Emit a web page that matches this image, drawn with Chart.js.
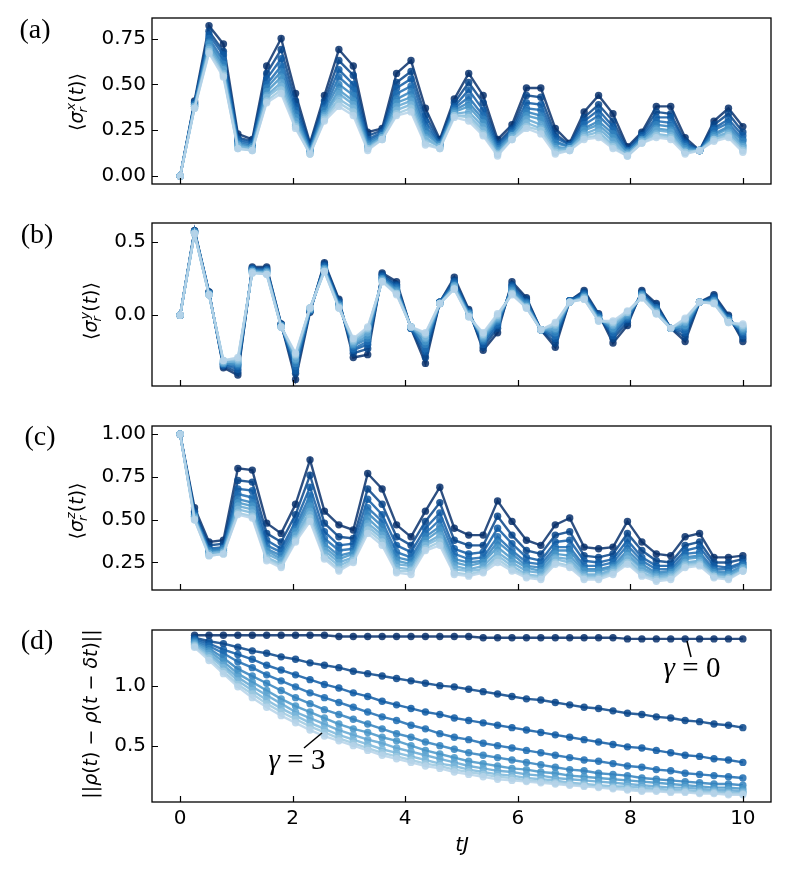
<!DOCTYPE html>
<html>
<head>
<meta charset="utf-8">
<script src="https://cdn.jsdelivr.net/npm/chart.js@4.4.0/dist/chart.umd.min.js"></script>
<style>
body { margin: 0; background: #fff; }
#wrap { position: relative; width: 788px; height: 873px; }
canvas { position: absolute; left: 0; }
</style>
</head>
<body>
<div id="wrap">
  <canvas id="panel-a" width="788" height="202" style="top:0px"></canvas>
  <canvas id="panel-b" width="788" height="199" style="top:205px"></canvas>
  <canvas id="panel-c" width="788" height="200" style="top:408px"></canvas>
  <canvas id="panel-d" width="788" height="261" style="top:612px"></canvas>
</div>
<script>
// time grid tJ (40 steps from 0 to 10)
const tValues = [0, 0.256, 0.513, 0.769, 1.026, 1.282, 1.538, 1.795, 2.051, 2.308, 2.564, 2.821, 3.077, 3.333,
  3.590, 3.846, 4.103, 4.359, 4.615, 4.872, 5.128, 5.385, 5.641, 5.897, 6.154, 6.410, 6.667, 6.923, 7.179,
  7.436, 7.692, 7.949, 8.205, 8.462, 8.718, 8.974, 9.231, 9.487, 9.744, 10];

const gammaLabels = ["0", "1/3", "2/3", "1", "4/3", "5/3", "2", "7/3", "8/3", "3"];
const seriesColors = ["#08306b", "#08458a", "#0f5aa3", "#1d6cb1", "#3181bd", "#4795c8", "#61a7d2", "#7bb7da", "#9cc9e1", "#b6d4e9"];

const xTicks = [0, 2, 4, 6, 8, 10];
const yTicksA = [0, 0.25, 0.5, 0.75];
const yTicksB = [0, 0.5];
const yTicksC = [0.25, 0.5, 0.75, 1.0];
const yTicksD = [0.5, 1.0];

// <sigma_r^x(t)>, one row per gamma (gamma = 0 first)
const sigmaX = [
  [0,.41,.82,.72,.23,.20,.60,.75,.45,.18,.44,.69,.60,.24,.26,.56,.63,.37,.20,.42,.56,.44,.20,.28,.48,.48,.26,.18,.35,.44,.34,.16,.24,.38,.38,.21,.14,.30,.37,.27],
  [0,.40,.79,.68,.21,.19,.56,.69,.41,.17,.41,.63,.55,.22,.25,.51,.57,.33,.19,.40,.51,.40,.18,.26,.44,.43,.23,.17,.32,.39,.30,.15,.23,.35,.34,.19,.14,.28,.34,.24],
  [0,.40,.77,.66,.20,.18,.53,.64,.38,.16,.39,.58,.50,.20,.24,.48,.53,.30,.18,.38,.47,.36,.17,.25,.40,.39,.21,.17,.30,.36,.27,.14,.22,.32,.32,.18,.14,.26,.31,.22],
  [0,.39,.75,.63,.19,.17,.50,.60,.36,.15,.37,.54,.47,.19,.23,.45,.49,.27,.18,.37,.43,.33,.16,.24,.37,.36,.19,.16,.28,.33,.25,.14,.21,.30,.29,.17,.14,.25,.29,.20],
  [0,.39,.73,.61,.18,.16,.48,.57,.34,.14,.36,.50,.44,.18,.22,.42,.46,.25,.17,.36,.40,.31,.15,.23,.35,.33,.18,.16,.26,.30,.23,.13,.20,.28,.27,.16,.14,.23,.27,.19],
  [0,.38,.72,.59,.17,.16,.46,.54,.32,.14,.34,.47,.41,.17,.22,.40,.43,.23,.17,.35,.38,.29,.14,.22,.33,.31,.16,.15,.25,.28,.21,.13,.20,.26,.25,.15,.14,.22,.26,.17],
  [0,.38,.70,.58,.17,.15,.44,.51,.30,.13,.33,.45,.39,.16,.21,.38,.41,.21,.16,.34,.35,.27,.13,.22,.31,.28,.15,.15,.23,.26,.19,.12,.19,.25,.24,.14,.14,.21,.24,.16],
  [0,.38,.69,.56,.16,.15,.43,.49,.28,.13,.32,.42,.37,.15,.21,.36,.39,.20,.16,.33,.33,.25,.12,.21,.29,.26,.14,.15,.22,.24,.17,.12,.19,.23,.22,.13,.14,.20,.23,.15],
  [0,.37,.68,.55,.15,.14,.41,.47,.27,.12,.31,.40,.35,.15,.20,.34,.37,.18,.15,.33,.32,.23,.12,.20,.27,.25,.13,.14,.21,.22,.16,.11,.18,.22,.21,.13,.14,.20,.22,.14],
  [0,.37,.67,.54,.15,.14,.40,.45,.26,.12,.30,.38,.33,.14,.20,.33,.35,.17,.15,.32,.30,.22,.11,.20,.26,.23,.12,.14,.20,.21,.15,.11,.18,.21,.20,.12,.14,.19,.21,.13]
];

// <sigma_r^y(t)>
const sigmaY = [
  [0,.58,.16,-.36,-.41,.33,.33,-.06,-.44,.02,.36,.11,-.29,-.27,.29,.23,-.09,-.33,.09,.26,.04,-.24,-.12,.23,.12,-.10,-.22,.10,.17,.01,-.19,-.07,.17,.08,-.09,-.18,.09,.14,.00,-.18],
  [0,.58,.16,-.35,-.39,.32,.32,-.06,-.40,.03,.35,.10,-.26,-.23,.28,.21,-.09,-.29,.09,.24,.03,-.22,-.09,.21,.11,-.10,-.19,.10,.16,.00,-.16,-.05,.16,.07,-.09,-.15,.09,.13,-.01,-.16],
  [0,.57,.15,-.34,-.37,.32,.31,-.07,-.38,.03,.34,.09,-.24,-.20,.27,.20,-.09,-.25,.09,.23,.02,-.20,-.07,.20,.09,-.10,-.16,.10,.15,.00,-.14,-.03,.15,.05,-.09,-.12,.09,.12,-.02,-.14],
  [0,.57,.15,-.34,-.35,.31,.31,-.07,-.35,.03,.33,.08,-.23,-.18,.26,.19,-.09,-.23,.09,.22,.02,-.18,-.06,.19,.09,-.10,-.14,.10,.14,-.01,-.12,-.02,.15,.05,-.09,-.10,.09,.11,-.02,-.12],
  [0,.57,.15,-.33,-.34,.31,.30,-.07,-.33,.04,.32,.07,-.21,-.16,.25,.18,-.08,-.20,.08,.21,.01,-.17,-.04,.18,.08,-.10,-.12,.09,.13,-.02,-.10,-.01,.14,.04,-.09,-.08,.09,.10,-.03,-.11],
  [0,.57,.15,-.33,-.33,.30,.30,-.07,-.31,.04,.32,.07,-.20,-.14,.25,.17,-.08,-.18,.08,.20,.01,-.16,-.03,.17,.07,-.10,-.10,.09,.13,-.02,-.09,.00,.14,.03,-.09,-.07,.09,.10,-.04,-.10],
  [0,.56,.14,-.32,-.32,.30,.29,-.08,-.30,.04,.31,.06,-.19,-.12,.24,.16,-.08,-.16,.08,.20,.00,-.15,-.02,.16,.06,-.10,-.09,.09,.12,-.03,-.07,.01,.13,.02,-.09,-.05,.09,.09,-.04,-.09],
  [0,.56,.14,-.32,-.31,.30,.29,-.08,-.28,.05,.31,.06,-.18,-.10,.24,.15,-.08,-.15,.08,.19,.00,-.14,-.01,.15,.06,-.10,-.07,.09,.12,-.03,-.06,.02,.13,.02,-.09,-.04,.09,.09,-.04,-.08],
  [0,.56,.14,-.31,-.30,.29,.28,-.08,-.27,.05,.30,.05,-.17,-.09,.23,.15,-.08,-.13,.08,.18,-.01,-.13,.00,.15,.05,-.10,-.06,.09,.11,-.04,-.05,.02,.12,.01,-.09,-.03,.09,.08,-.05,-.07],
  [0,.56,.14,-.31,-.29,.29,.28,-.08,-.26,.05,.30,.05,-.16,-.08,.23,.14,-.08,-.12,.08,.18,-.01,-.12,.01,.14,.05,-.10,-.05,.09,.11,-.04,-.04,.03,.12,.01,-.09,-.02,.09,.08,-.05,-.06]
];

// <sigma_r^z(t)>
const sigmaZ = [
  [1,.57,.37,.38,.80,.79,.48,.42,.59,.85,.55,.47,.44,.77,.68,.47,.40,.55,.69,.45,.41,.41,.61,.49,.38,.35,.47,.51,.34,.33,.34,.49,.37,.30,.29,.40,.42,.28,.28,.29],
  [1,.55,.35,.36,.73,.72,.42,.37,.53,.76,.48,.40,.39,.68,.59,.40,.35,.49,.60,.38,.35,.35,.52,.41,.32,.30,.41,.43,.29,.28,.30,.42,.32,.26,.25,.35,.37,.25,.25,.27],
  [1,.54,.33,.34,.68,.67,.38,.33,.49,.69,.43,.35,.36,.62,.53,.35,.31,.45,.54,.33,.30,.31,.45,.36,.28,.26,.37,.38,.26,.25,.27,.38,.28,.23,.23,.32,.34,.23,.22,.25],
  [1,.53,.32,.33,.65,.63,.35,.31,.46,.64,.39,.32,.33,.57,.49,.31,.28,.42,.50,.30,.27,.28,.40,.32,.25,.24,.34,.34,.23,.23,.25,.35,.26,.21,.21,.30,.31,.21,.21,.24],
  [1,.52,.32,.33,.62,.60,.33,.29,.44,.61,.36,.29,.31,.54,.46,.28,.26,.40,.46,.27,.25,.26,.37,.30,.23,.22,.32,.32,.21,.21,.23,.32,.24,.19,.20,.28,.29,.20,.19,.23],
  [1,.52,.31,.32,.60,.58,.32,.27,.43,.58,.34,.27,.30,.51,.43,.26,.24,.38,.44,.25,.23,.25,.34,.27,.22,.20,.30,.29,.20,.20,.22,.30,.22,.18,.19,.27,.28,.19,.18,.22],
  [1,.51,.30,.31,.58,.56,.30,.26,.41,.55,.32,.25,.28,.48,.41,.24,.23,.36,.41,.23,.21,.23,.31,.25,.20,.19,.28,.27,.18,.18,.21,.29,.21,.17,.18,.25,.26,.18,.17,.22],
  [1,.51,.30,.31,.56,.54,.28,.24,.39,.53,.30,.23,.27,.46,.39,.22,.21,.35,.39,.21,.20,.21,.29,.23,.18,.17,.27,.25,.17,.17,.20,.27,.19,.16,.17,.24,.25,.17,.16,.21],
  [1,.50,.29,.30,.54,.52,.27,.23,.38,.51,.28,.21,.26,.44,.37,.20,.20,.33,.37,.19,.18,.20,.27,.21,.17,.16,.25,.23,.16,.16,.19,.25,.18,.15,.16,.23,.24,.17,.16,.20],
  [1,.50,.29,.30,.53,.51,.26,.22,.37,.49,.27,.20,.25,.42,.35,.19,.18,.32,.35,.18,.17,.19,.25,.20,.16,.15,.24,.22,.15,.15,.18,.24,.17,.14,.15,.22,.23,.16,.15,.20]
];

// ||rho(t) - rho(t - dt)||, starts at the second time step
const distance = [
  [1.42,1.42,1.42,1.42,1.42,1.42,1.42,1.42,1.42,1.42,1.41,1.41,1.41,1.41,1.41,1.41,1.41,1.41,1.41,1.41,1.40,1.40,1.40,1.40,1.40,1.40,1.40,1.40,1.40,1.40,1.39,1.39,1.39,1.39,1.39,1.39,1.39,1.39,1.39],
  [1.40,1.37,1.35,1.32,1.29,1.27,1.24,1.22,1.19,1.17,1.15,1.12,1.10,1.08,1.06,1.04,1.02,1.00,0.99,0.97,0.95,0.93,0.91,0.89,0.88,0.86,0.84,0.82,0.81,0.79,0.77,0.76,0.74,0.73,0.71,0.70,0.68,0.67,0.65],
  [1.39,1.35,1.30,1.26,1.22,1.17,1.13,1.09,1.05,1.01,0.98,0.94,0.91,0.87,0.84,0.81,0.78,0.76,0.73,0.71,0.69,0.67,0.65,0.63,0.61,0.59,0.57,0.55,0.53,0.51,0.49,0.48,0.46,0.44,0.42,0.41,0.39,0.38,0.36],
  [1.38,1.33,1.27,1.20,1.15,1.09,1.04,0.99,0.94,0.90,0.86,0.82,0.78,0.74,0.71,0.67,0.64,0.60,0.57,0.55,0.52,0.50,0.48,0.46,0.44,0.42,0.40,0.38,0.37,0.35,0.33,0.32,0.30,0.29,0.27,0.26,0.25,0.24,0.23],
  [1.37,1.31,1.23,1.14,1.08,1.02,0.96,0.90,0.85,0.80,0.76,0.72,0.68,0.64,0.60,0.57,0.53,0.50,0.47,0.44,0.42,0.40,0.38,0.36,0.34,0.32,0.30,0.29,0.27,0.26,0.25,0.23,0.22,0.21,0.20,0.19,0.18,0.18,0.17],
  [1.36,1.29,1.20,1.10,1.03,0.96,0.89,0.83,0.78,0.73,0.68,0.64,0.61,0.57,0.54,0.50,0.46,0.43,0.40,0.37,0.35,0.33,0.31,0.30,0.28,0.27,0.25,0.24,0.23,0.22,0.21,0.20,0.19,0.18,0.17,0.16,0.15,0.15,0.14],
  [1.35,1.27,1.17,1.07,0.99,0.92,0.85,0.78,0.73,0.68,0.63,0.59,0.55,0.52,0.48,0.45,0.42,0.39,0.36,0.33,0.31,0.29,0.28,0.26,0.25,0.23,0.22,0.21,0.20,0.19,0.18,0.17,0.16,0.15,0.15,0.14,0.13,0.13,0.12],
  [1.34,1.25,1.15,1.04,0.96,0.88,0.81,0.75,0.69,0.64,0.59,0.55,0.51,0.47,0.44,0.41,0.38,0.35,0.33,0.30,0.28,0.26,0.25,0.23,0.22,0.21,0.19,0.18,0.17,0.16,0.16,0.15,0.14,0.13,0.13,0.12,0.12,0.11,0.11],
  [1.33,1.23,1.12,1.01,0.93,0.85,0.78,0.72,0.66,0.61,0.56,0.52,0.48,0.44,0.41,0.38,0.35,0.33,0.30,0.28,0.26,0.24,0.23,0.21,0.20,0.19,0.18,0.17,0.16,0.15,0.14,0.13,0.13,0.12,0.12,0.11,0.11,0.10,0.10],
  [1.32,1.21,1.10,0.99,0.90,0.82,0.75,0.69,0.63,0.58,0.54,0.50,0.46,0.42,0.39,0.36,0.33,0.31,0.28,0.26,0.24,0.22,0.21,0.20,0.19,0.18,0.17,0.16,0.15,0.14,0.13,0.12,0.12,0.11,0.11,0.10,0.10,0.09,0.09]
];

const TICK_FONT = { family: "DejaVu Sans", size: 20 };

function rgba(hex, a) {
  const n = parseInt(hex.slice(1), 16);
  return `rgba(${n >> 16}, ${(n >> 8) & 255}, ${n & 255}, ${a})`;
}

// draws a mathtext-like label rotated 90deg, with optional stacked sup/sub
function drawMath(ctx, parts, cx, cy, size) {
  const fN = size + 'px "DejaVu Sans"';
  const fI = 'italic ' + fN;
  const fS = 'italic ' + Math.round(size * 0.7) + 'px "DejaVu Sans"';
  let total = 0;
  const items = parts.map(p => {
    let w;
    if (p.sup !== undefined) {
      ctx.font = fS;
      w = Math.max(ctx.measureText(p.sup).width, ctx.measureText(p.sub).width) + 1;
    } else {
      ctx.font = p.i ? fI : fN;
      w = ctx.measureText(p.t).width;
    }
    total += w;
    return { p, w };
  });
  ctx.save();
  ctx.translate(cx, cy);
  ctx.rotate(-Math.PI / 2);
  ctx.textBaseline = "middle";
  ctx.textAlign = "left";
  ctx.fillStyle = "#000";
  let x = -total / 2;
  items.forEach(({ p, w }) => {
    if (p.sup !== undefined) {
      ctx.font = fS;
      ctx.fillText(p.sup, x + 1, -size * 0.36);
      ctx.fillText(p.sub, x - 1, size * 0.3);
    } else {
      ctx.font = p.i ? fI : fN;
      ctx.fillText(p.t, x, 0);
    }
    x += w;
  });
  ctx.restore();
}

function drawGamma(ctx, val, cx, cy) {
  const fI = 'italic 29px "Liberation Serif"';
  const fN = '29px "Liberation Serif"';
  ctx.font = fI;
  const w1 = ctx.measureText("γ").width;
  ctx.font = fN;
  const rest = " = " + val;
  const w2 = ctx.measureText(rest).width;
  let x = cx - (w1 + w2) / 2;
  ctx.textBaseline = "middle";
  ctx.textAlign = "left";
  ctx.fillStyle = "#000";
  ctx.font = fI;
  ctx.fillText("γ", x, cy);
  ctx.font = fN;
  ctx.fillText(rest, x + w1, cy);
}

// frame, inward ticks, panel letter, y label and annotations
const framePlugin = {
  id: "frame",
  afterDraw(chart, args, o) {
    const { ctx, chartArea: a, scales } = chart;
    const top = o.top;
    ctx.save();
    ctx.strokeStyle = "#000";
    ctx.lineWidth = 1.3;
    ctx.strokeRect(a.left, a.top, a.right - a.left, a.bottom - a.top);
    ctx.lineWidth = 1.2;
    ctx.beginPath();
    scales.y.ticks.forEach(t => {
      const p = Math.round(scales.y.getPixelForValue(t.value)) + 0.5;
      ctx.moveTo(a.left, p);
      ctx.lineTo(a.left + 6, p);
    });
    scales.x.ticks.forEach(t => {
      const p = Math.round(scales.x.getPixelForValue(t.value)) + 0.5;
      ctx.moveTo(p, a.bottom);
      ctx.lineTo(p, a.bottom - 6);
    });
    ctx.stroke();

    ctx.fillStyle = "#000";
    ctx.font = '28px "Liberation Serif"';
    ctx.textAlign = "center";
    ctx.textBaseline = "middle";
    ctx.fillText(o.letter, o.letterX, o.letterY - top);

    drawMath(ctx, o.ylabel, o.labelX, o.labelY - top, 19);

    if (o.xtitle) {
      ctx.font = 'italic 20px "DejaVu Sans"';
      ctx.textAlign = "center";
      ctx.textBaseline = "middle";
      ctx.fillText("tJ", 462, 846 - top);
    }
    (o.notes || []).forEach(n => {
      ctx.beginPath();
      ctx.lineWidth = 1.5;
      ctx.moveTo(n.from[0], n.from[1] - top);
      ctx.lineTo(n.to[0], n.to[1] - top);
      ctx.stroke();
      drawGamma(ctx, n.val, n.at[0], n.at[1] - top);
    });
    ctx.restore();
  }
};

function makePanel(id, series, xs, yMin, yMax, yTicks, decimals, pad, frameOpts, showX) {
  const datasets = series.map((vals, k) => ({
    label: "γ = " + gammaLabels[k],
    data: vals.map((v, i) => ({ x: xs[i], y: v })),
    borderColor: rgba(seriesColors[k], 0.85),
    backgroundColor: rgba(seriesColors[k], 0.85),
    borderWidth: 2.4,
    pointRadius: 3.7,
    pointBorderWidth: 0,
    tension: 0,
    order: series.length - 1 - k
  }));
  return new Chart(document.getElementById(id), {
    type: "line",
    data: { datasets },
    options: {
      responsive: false,
      animation: false,
      layout: { padding: { top: pad.top, bottom: pad.bottom, left: 0, right: 17 } },
      plugins: { legend: { display: false }, tooltip: { enabled: false }, frame: frameOpts },
      scales: {
        x: {
          type: "linear",
          min: -0.5,
          max: 10.5,
          grid: { display: false, drawTicks: false },
          border: { display: false },
          ticks: { display: showX, font: TICK_FONT, color: "#000", padding: 5, maxRotation: 0 },
          afterBuildTicks: s => { s.ticks = xTicks.map(v => ({ value: v })); },
          afterFit: s => { s.height = showX ? 71 : 0; }
        },
        y: {
          min: yMin,
          max: yMax,
          grid: { display: false, drawTicks: false },
          border: { display: false },
          ticks: { font: TICK_FONT, color: "#000", padding: 6, callback: v => Number(v).toFixed(decimals) },
          afterBuildTicks: s => { s.ticks = yTicks.map(v => ({ value: v })); },
          afterFit: s => { s.width = 152; }
        }
      }
    },
    plugins: [framePlugin]
  });
}

makePanel("panel-a", sigmaX, tValues, -0.043, 0.862, yTicksA, 2, { top: 16, bottom: 10 }, {
  top: 0, letter: "(a)", letterX: 35, letterY: 31, labelX: 78, labelY: 102,
  ylabel: [{ t: "⟨" }, { t: "σ", i: 1 }, { sup: "x", sub: "r" }, { t: "(" }, { t: "t", i: 1 }, { t: ")" }, { t: "⟩" }]
}, false);

makePanel("panel-b", sigmaY, tValues, -0.485, 0.632, yTicksB, 1, { top: 14, bottom: 10 }, {
  top: 205, letter: "(b)", letterX: 37, letterY: 236, labelX: 92, labelY: 311,
  ylabel: [{ t: "⟨" }, { t: "σ", i: 1 }, { sup: "y", sub: "r" }, { t: "(" }, { t: "t", i: 1 }, { t: ")" }, { t: "⟩" }]
}, false);

makePanel("panel-c", sigmaZ, tValues, 0.089, 1.048, yTicksC, 2, { top: 14, bottom: 10 }, {
  top: 408, letter: "(c)", letterX: 40, letterY: 438, labelX: 78, labelY: 511,
  ylabel: [{ t: "⟨" }, { t: "σ", i: 1 }, { sup: "z", sub: "r" }, { t: "(" }, { t: "t", i: 1 }, { t: ")" }, { t: "⟩" }]
}, false);

makePanel("panel-d", distance, tValues.slice(1), 0.03, 1.464, yTicksD, 1, { top: 15, bottom: 0 }, {
  top: 612, letter: "(d)", letterX: 37, letterY: 642, labelX: 92, labelY: 714, xtitle: true,
  ylabel: [{ t: "||" }, { t: "ρ", i: 1 }, { t: "(" }, { t: "t", i: 1 }, { t: ")" }, { t: " − " }, { t: "ρ", i: 1 },
    { t: "(" }, { t: "t", i: 1 }, { t: " − " }, { t: "δ", i: 1 }, { t: "t", i: 1 }, { t: ")" }, { t: "||" }],
  notes: [
    { val: "0", from: [687, 641], to: [691, 657], at: [692, 669] },
    { val: "3", from: [322, 733], to: [304, 748], at: [297, 761] }
  ]
}, true);
</script>
</body>
</html>
